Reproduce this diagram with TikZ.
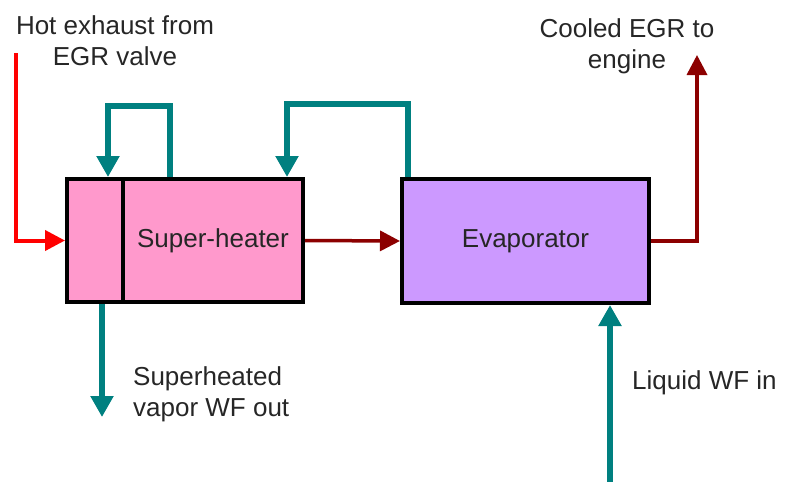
\documentclass[tikz,border=0pt]{standalone}
\usepackage{fontspec}
\setmainfont{Liberation Sans}
\usetikzlibrary{arrows.meta}
\definecolor{shpink}{RGB}{255,153,204}
\definecolor{evpurple}{RGB}{204,153,255}
\definecolor{wfteal}{RGB}{0,128,128}
\definecolor{egrred}{RGB}{140,0,0}

\begin{document}
\begin{tikzpicture}[x=1pt,y=-1pt,
    unit/.style={draw=black,line width=4pt,minimum height=123pt,inner sep=0pt},
    lbl/.style={font=\fontsize{26}{31}\selectfont,inner sep=0pt,text=black!85},
    wf/.style={wfteal,line width=6pt,-{Triangle[length=21pt,width=22pt]}},
    gas/.style={egrred,line width=3.5pt,-{Triangle[length=20pt,width=20pt]}}]
    \useasboundingbox (0,0) rectangle (785,482);

    \node[unit,fill=shpink,minimum width=56pt] (shleft) at (95,240.5) {};
    \node[unit,fill=shpink,minimum width=180pt,lbl] (shmain) at (213,240.5) {Super-heater};
    \node[unit,fill=evpurple,minimum width=247pt,minimum height=124pt,lbl] (evap) at (525.5,241) {Evaporator};

    \coordinate (hotin) at (16,53);
    \coordinate (cooled) at (697,55);
    \coordinate (loopa) at (170,106);
    \coordinate (loopb) at (108,106);
    \coordinate (loopc) at (408,104);
    \coordinate (loopd) at (287,104);
    \coordinate (vapout) at (102,417);
    \coordinate (liqin) at (610,482);

    \draw[gas,red,line width=4pt] (hotin) |- (shleft.west);
    \draw[gas] (shmain.east) -- (evap.west);
    \draw[gas] (evap.east) -| (cooled);
    \draw[wf] (loopa |- shmain.north) -- (loopa) -- (loopb) -- (loopb |- shleft.north);
    \draw[wf] (loopc |- evap.north) -- (loopc) -- (loopd) -- (loopd |- shmain.north);
    \draw[wf] (vapout |- shleft.south) -- (vapout);
    \draw[wf] (liqin) -- (liqin |- evap.south);

    \node[lbl,align=center] (hotlbl) at (115,41) {Hot exhaust from\\EGR valve};
    \node[lbl,align=center] (coolbl) at (627,46) {Cooled EGR to\\engine};
    \node[lbl,align=left,anchor=west] (vaplbl) at (133,394) {Superheated\\vapor WF out};
    \node[lbl,anchor=west] (liqlbl) at (632,383) {Liquid WF in};
\end{tikzpicture}
\end{document}
